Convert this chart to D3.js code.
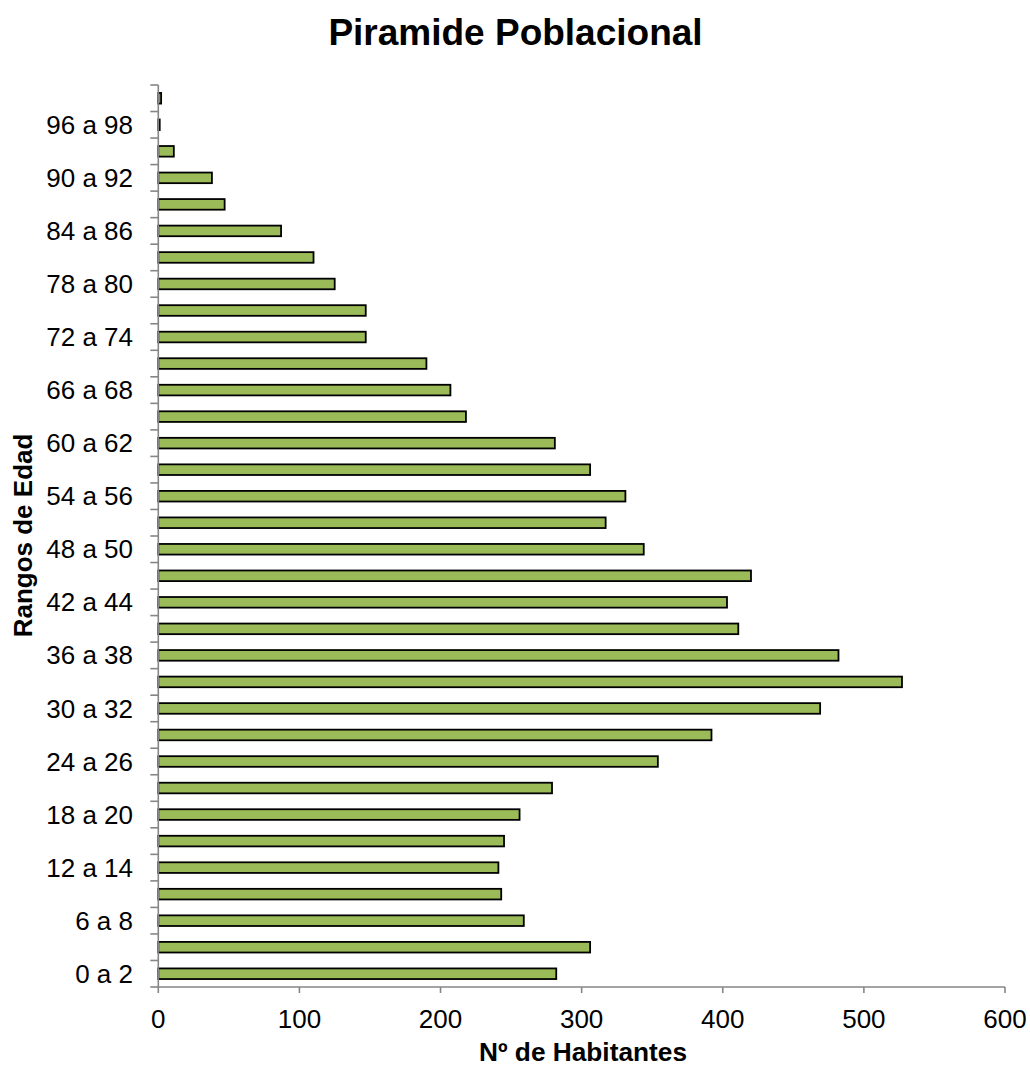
<!DOCTYPE html>
<html>
<head>
<meta charset="utf-8">
<script src="https://cdn.jsdelivr.net/npm/d3@7/dist/d3.min.js"></script>
<style>
  html, body { margin: 0; padding: 0; background: #fff; }
  svg { display: block; font-family: "Liberation Sans", Arial, sans-serif; }
</style>
</head>
<body>
<svg id="chart" width="1030" height="1068"></svg>
<script>
const categories = ["0 a 2","3 a 5","6 a 8","9 a 11","12 a 14","15 a 17","18 a 20","21 a 23","24 a 26","27 a 29",
  "30 a 32","33 a 35","36 a 38","39 a 41","42 a 44","45 a 47","48 a 50","51 a 53","54 a 56","57 a 59",
  "60 a 62","63 a 65","66 a 68","69 a 71","72 a 74","75 a 77","78 a 80","81 a 83","84 a 86","87 a 89",
  "90 a 92","93 a 95","96 a 98","99 a 101"];
const habitantes = [282,306,259,243,241,245,256,279,354,392,
  469,527,482,411,403,420,344,317,331,306,
  281,218,207,190,147,147,125,110,87,47,
  38,11,1,2];
const xTicks = [0,100,200,300,400,500,600];
const chartTitle = "Piramide Poblacional";
const xTitle = "Nº de Habitantes";
const yTitle = "Rangos de Edad";

const svg = d3.select("#chart");
const margin = {left: 158.3, right: 1005, top: 85, bottom: 987};

const x = d3.scaleLinear().domain([0, 600]).range([margin.left, margin.right]);
const y = d3.scaleBand().domain(categories).range([margin.bottom, margin.top]).paddingInner(0.6).paddingOuter(0.3);

const axisColor = "#868686";

// bars
svg.append("g").selectAll("rect").data(categories).join("rect")
  .attr("x", x(0))
  .attr("y", (d) => y(d))
  .attr("width", (d, i) => Math.max(0, x(habitantes[i]) - x(0)))
  .attr("height", y.bandwidth())
  .attr("fill", "#9BBB59")
  .attr("stroke", "#000")
  .attr("stroke-width", 1.8);

// y axis (category)
const yAxis = svg.append("g");
yAxis.append("line")
  .attr("x1", margin.left).attr("x2", margin.left)
  .attr("y1", margin.top).attr("y2", margin.bottom)
  .attr("stroke", axisColor).attr("stroke-width", 1.6);
const boundaries = d3.range(categories.length + 1).map(i => margin.bottom - i * (margin.bottom - margin.top) / categories.length);
yAxis.selectAll("line.tick").data(boundaries).join("line")
  .attr("class", "tick")
  .attr("x1", margin.left - 8).attr("x2", margin.left)
  .attr("y1", d => d).attr("y2", d => d)
  .attr("stroke", axisColor).attr("stroke-width", 1.6);
yAxis.selectAll("text").data(categories.filter((c, i) => i % 2 === 0)).join("text")
  .attr("x", 133)
  .attr("y", d => y(d) + y.bandwidth() / 2)
  .attr("dy", "0.35em")
  .attr("text-anchor", "end")
  .attr("font-size", 26)
  .attr("fill", "#000")
  .text(d => d);

// x axis
const xAxis = svg.append("g");
xAxis.append("line")
  .attr("x1", margin.left).attr("x2", margin.right)
  .attr("y1", margin.bottom).attr("y2", margin.bottom)
  .attr("stroke", axisColor).attr("stroke-width", 1.6);
xAxis.selectAll("line.tick").data(xTicks).join("line")
  .attr("class", "tick")
  .attr("x1", d => x(d)).attr("x2", d => x(d))
  .attr("y1", margin.bottom).attr("y2", margin.bottom + 6)
  .attr("stroke", axisColor).attr("stroke-width", 1.6);
xAxis.selectAll("text").data(xTicks).join("text")
  .attr("x", d => x(d))
  .attr("y", 1028)
  .attr("text-anchor", "middle")
  .attr("font-size", 26)
  .attr("fill", "#000")
  .text(d => d);

// titles
svg.append("text")
  .attr("x", 515.5).attr("y", 45)
  .attr("text-anchor", "middle")
  .attr("font-size", 37).attr("font-weight", "bold")
  .text(chartTitle);

svg.append("text")
  .attr("x", 583).attr("y", 1061)
  .attr("text-anchor", "middle")
  .attr("font-size", 25).attr("font-weight", "bold")
  .attr("textLength", 208).attr("lengthAdjust", "spacingAndGlyphs")
  .text(xTitle);

svg.append("text")
  .attr("transform", "translate(32,535.5) rotate(-90)")
  .attr("text-anchor", "middle")
  .attr("font-size", 26).attr("font-weight", "bold")
  .text(yTitle);
</script>
</body>
</html>
